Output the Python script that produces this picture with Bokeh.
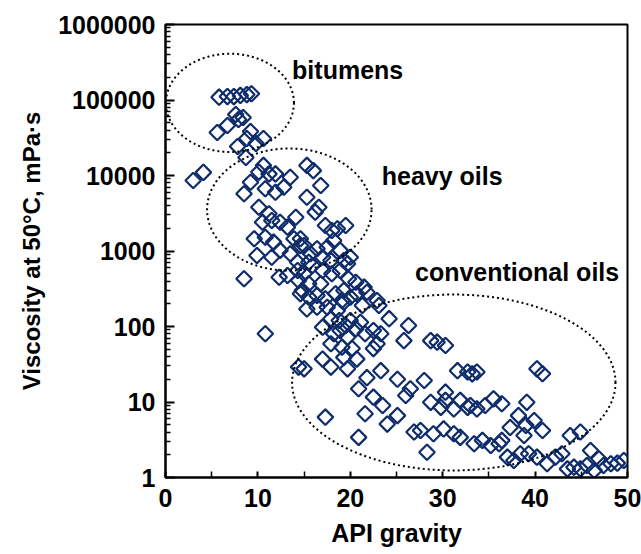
import numpy as np
from bokeh.plotting import figure
from bokeh.models import FixedTicker, NumeralTickFormatter
from bokeh.core.properties import value
from bokeh.embed import file_html
from bokeh.resources import INLINE

# API gravity of each crude sample
api = [
    5.8, 6.7, 7.4, 8.1, 8.8, 9.3,
    7.6, 8.4, 7.9, 6.7, 5.6, 9.2, 8.8, 10.6, 9.8, 7.8, 8.7,
    3.0, 4.1, 10.6, 10.1, 11.2, 11.9, 9.2, 8.5, 10.8, 11.9, 12.8, 13.5, 15.3, 16.0,
    15.3, 16.6, 16.2, 16.8, 10.1, 11.2, 10.5, 11.5, 12.4, 13.2, 14.1, 9.6, 10.8, 11.7,
    13.9, 14.6, 12.4, 9.9, 11.5, 13.5, 14.6, 17.3, 18.0, 18.6, 19.5, 18.2, 17.5, 16.4,
    15.7, 8.5, 14.3, 15.5, 18.9, 19.3,
    15.0, 20.0, 17.0, 17.9, 12.3, 13.2, 14.3, 15.0, 15.9, 17.0, 18.0, 18.9, 19.8, 20.6,
    14.4, 15.5, 16.8,
    14.6, 15.5, 16.4, 17.3, 18.4, 19.1, 20.0, 21.8, 22.9,
    15.3, 16.4, 17.5, 18.6, 19.3, 17.9, 18.8, 20.0, 21.1,
    17.0, 18.2, 18.9, 19.7, 22.5, 10.8, 17.9, 19.1, 20.2, 22.9, 19.3,
    21.3, 23.1, 24.2, 26.3, 25.8, 19.5, 20.6, 21.6, 23.3, 20.7, 22.5, 17.0, 17.9, 19.7,
    23.3, 21.8, 20.9, 22.5, 23.5, 21.6, 25.1, 26.0, 26.5, 28.0, 25.1, 24.0, 17.3, 20.9,
    28.7, 29.4, 30.3, 31.6, 32.7, 28.7, 29.8, 30.3, 31.9, 32.7, 27.6, 29.0, 30.1, 31.2,
    31.9,
    33.2, 33.7, 40.2, 40.8, 30.3, 31.2, 33.0, 33.7, 34.6, 35.5, 36.4, 39.1, 38.2, 37.3,
    39.0, 39.9, 40.8, 38.8, 33.4, 34.3, 35.2, 36.1, 36.4, 37.0, 37.7, 38.4, 39.3, 40.2,
    41.3, 42.2, 42.9, 43.8, 44.9, 46.0, 46.9, 43.5, 44.2, 44.9, 45.6, 46.4, 47.4, 48.2,
    48.9, 49.6,
    14.4, 15.0, 28.3, 26.9,
    14.8, 19.3, 20.7, 21.5, 19.7,
]

# Dynamic viscosity at 50 °C, mPa·s
viscosity = [
    109000, 111000, 111000, 115000, 118000, 121000,
    64300, 58600, 55200, 45900, 37100, 38300, 30900, 30900, 26500, 24200, 17300,
    8600, 11000, 13600, 11100, 10500, 10500, 8150, 5720, 6670, 6010, 7000, 9490, 13600, 11600,
    5160, 3800, 3270, 7380, 3800, 3110, 2400, 2530, 2400, 2070, 2800, 1450, 1520, 1310,
    1450, 1450, 1020, 871, 827, 918, 1180, 2180, 1870, 1970, 2180, 1380, 1120, 1070,
    918, 429, 711, 711, 1020, 748,
    1180, 827, 827, 748, 450, 473, 552, 499, 643, 552, 499, 552, 429, 386,
    406, 368, 368,
    271, 244, 258, 233, 271, 221, 244, 284, 221,
    171, 180, 180, 163, 210, 127, 120, 120, 114,
    98, 80, 88.5, 72, 88.5, 80, 59, 53, 51, 59, 39,
    190, 190, 127, 103, 65, 103, 93, 80, 80, 37, 51, 37, 29, 27.5,
    26, 21, 15, 11.6, 9.0, 7.0, 20, 12.2, 15, 19.3, 6.6, 5.1, 6.3, 3.4,
    65, 62, 56, 26, 25, 9.9, 8.5, 10.5, 10.5, 8.5, 4.2, 3.8, 4.4, 3.8,
    3.4,
    23.6, 25, 27.5, 23.7, 13.5, 8.1, 9.0, 8.1, 9.0, 11, 9.5, 9.9, 6.6, 4.6,
    4.9, 5.7, 4.2, 3.6, 2.8, 3.1, 2.65, 2.8, 3.1, 1.86, 1.68, 2.06, 2.06, 1.86,
    1.52, 1.86, 2.06, 3.6, 4.0, 2.28, 1.77, 1.30, 1.37, 1.30, 1.44, 1.24, 1.44, 1.52,
    1.55, 1.68,
    29, 27.5, 2.16, 4.0,
    300, 300, 271, 332, 676,
]

# Oil classes: name, API span, viscosity span (outlined by dotted ellipses)
groups = ["bitumens", "heavy oils", "conventional oils"]
group_api_span = [(0.05, 13.9), (4.5, 22.3), (13.7, 48.7)]
group_visc_span = [(2.05e4, 4.1e5), (550, 22800), (1.24, 265)]
label_api = [13.7, 23.4, 27.0]
label_visc = [2.46e5, 9700, 535]

FONT = "Liberation Sans"
NAVY = "#0f2d6b"

p = figure(
    width=641, height=554,
    x_range=(0, 50), y_range=(1, 1e6), y_axis_type="log",
    output_backend="svg", toolbar_location=None,
    min_border_left=165, min_border_right=14,
    min_border_top=24, min_border_bottom=77,
    background_fill_color="white", border_fill_color="white",
)
p.grid.visible = False
p.outline_line_color = "black"
p.outline_line_width = 2

# data points: open diamonds
p.scatter(api, viscosity, marker="square", angle=np.pi / 4, size=11,
          fill_color=None, line_color=NAVY, line_width=2.2)

# dotted class outlines, drawn as ellipses in (API, log viscosity) space
t = np.linspace(0, 2 * np.pi, 361)
for (a0, a1), (v0, v1) in zip(group_api_span, group_visc_span):
    cx, rx = (a0 + a1) / 2, (a1 - a0) / 2
    l0, l1 = np.log10(v0), np.log10(v1)
    cy, ry = (l0 + l1) / 2, (l1 - l0) / 2
    p.line(cx + rx * np.cos(t), 10 ** (cy + ry * np.sin(t)),
           line_color="black", line_width=2, line_dash="2 3")

p.text(x=label_api, y=label_visc, text=groups,
       text_font=value(FONT), text_font_style="bold", text_font_size="25px",
       text_align="left", text_baseline="middle", text_color="black")

# x axis
xa = p.xaxis[0]
xa.ticker = FixedTicker(ticks=[0, 10, 20, 30, 40, 50], minor_ticks=[5, 15, 25, 35, 45])
xa.axis_label = "API gravity"
# y axis
ya = p.yaxis[0]
decades = [10 ** d for d in range(7)]
ya.ticker = FixedTicker(ticks=decades,
                        minor_ticks=[k * 10 ** d for d in range(6) for k in range(2, 10)])
ya.formatter = NumeralTickFormatter(format="0")
ya.axis_label = "Viscosity at 50°C, mPa·s"

for ax in (xa, ya):
    ax.axis_line_color = "black"
    ax.axis_line_width = 2
    ax.major_tick_line_color = "black"
    ax.minor_tick_line_color = "black"
    ax.major_tick_line_width = 2
    ax.minor_tick_line_width = 1.5
    ax.major_tick_out = 0
    ax.minor_tick_out = 0
    ax.major_label_text_font = FONT
    ax.major_label_text_font_style = "bold"
    ax.major_label_text_font_size = "25px"
    ax.major_label_text_color = "black"
    ax.axis_label_text_font = FONT
    ax.axis_label_text_font_style = "bold"
    ax.axis_label_text_font_size = "24px"
    ax.axis_label_text_color = "black"

xa.axis_label_text_font_size = "25px"
xa.major_tick_in = 6
xa.minor_tick_in = 6
xa.major_label_standoff = 11
xa.axis_label_standoff = 9
ya.major_tick_in = 9
ya.minor_tick_in = 5
ya.major_label_standoff = 10
ya.axis_label_standoff = 10

open("out.html", "w").write(file_html(p, INLINE))
